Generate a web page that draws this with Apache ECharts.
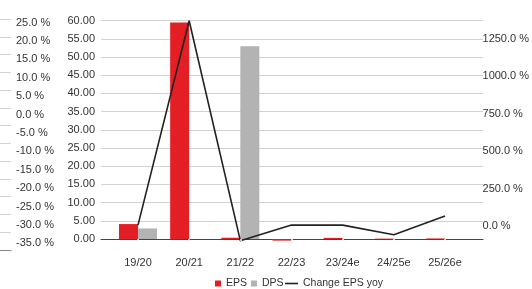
<!DOCTYPE html>
<html>
<head>
<meta charset="utf-8">
<script src="https://cdn.jsdelivr.net/npm/echarts@6/dist/echarts.min.js"></script>
<style>
    html, body { margin: 0; padding: 0; background: #fff; }
    #chart { width: 532px; height: 289px; }
</style>
</head>
<body>
<div id="chart"></div>
<script>
// 数据
const categories = ['19/20', '20/21', '21/22', '22/23', '23/24e', '24/25e', '25/26e'];
const eps = [4.1, 59.5, 0.35, -0.45, 0.3, 0.1, 0.15];
const dps = [2.9, 0, 53.0, 0, 0, 0, 0];
const changeEps = [6, 1372, -98, 6, 6, -58, 67];

const font = 'Liberation Sans, Arial, sans-serif';
const labelColor = '#333';
const gridColor = '#d2d2d2';

const chart = echarts.init(document.getElementById('chart'));

const option = {
    animation: false,
    backgroundColor: '#fff',
    textStyle: { fontFamily: font },
    grid: [
        { left: 101, right: 49, top: 20.7, bottom: 50 },      // EPS 网格线
        { left: 112.4, right: 61.4, top: 20.7, bottom: 37.5 }, // 数据
        { left: 101, right: 49, top: 39, bottom: 63 },        // 右侧百分比标签
        { left: 0, width: 11, top: 19, bottom: 39 },          // 左侧残留线
        { left: 0, width: 11, top: 22.7, bottom: 45.7 }       // 左侧百分比标签
    ],
    xAxis: [
        {
            gridIndex: 0, type: 'category', data: categories, offset: 12.5,
            axisLine: { lineStyle: { color: '#444', width: 1 } },
            axisTick: { show: false }, axisLabel: { show: false }
        },
        {
            gridIndex: 1, type: 'category', data: categories, z: 5,
            axisLine: { show: false },
            axisTick: { show: true, alignWithLabel: true, length: 2, lineStyle: { color: '#fff', width: 1.5 } },
            axisLabel: { color: labelColor, fontSize: 11, margin: 6, fontFamily: font }
        },
        { gridIndex: 2, type: 'value', show: false },
        {
            gridIndex: 3, type: 'value', axisLabel: { show: false }, axisTick: { show: false },
            splitLine: { show: false }, axisLine: { show: true, lineStyle: { color: '#888' } }
        },
        { gridIndex: 4, type: 'value', show: false }
    ],
    yAxis: [
        {
            gridIndex: 0, type: 'value', min: 0, max: 60, interval: 5,
            axisLine: { show: false }, axisTick: { show: false },
            axisLabel: { color: labelColor, fontSize: 11, margin: 6, fontFamily: font, formatter: v => v.toFixed(2) },
            splitLine: { lineStyle: { color: gridColor, width: 1 } }
        },
        { gridIndex: 1, type: 'value', min: -3.44, max: 60, show: false },
        { gridIndex: 1, type: 'value', min: -170.5, max: 1372.3, position: 'right', show: false },
        {
            gridIndex: 2, type: 'value', position: 'right', min: 0, max: 1250, interval: 250,
            axisLine: { show: false }, axisTick: { show: false }, splitLine: { show: false },
            axisLabel: { color: labelColor, fontSize: 11, margin: 8, fontFamily: font, formatter: v => v.toFixed(1) + ' %' }
        },
        {
            gridIndex: 3, type: 'value', min: 0, max: 13, interval: 1,
            axisLine: { show: false }, axisTick: { show: false }, axisLabel: { show: false },
            splitLine: { lineStyle: { color: gridColor, width: 1 } }
        },
        {
            gridIndex: 4, type: 'value', min: -35, max: 25, interval: 5,
            axisLine: { show: false }, axisTick: { show: false }, splitLine: { show: false },
            axisLabel: { inside: true, color: labelColor, fontSize: 11, margin: 16, fontFamily: font, formatter: v => v.toFixed(1) + ' %' }
        }
    ],
    legend: [
        {
            data: ['EPS', 'DPS'], left: 215, top: 278, padding: 0,
            itemWidth: 6, itemHeight: 6, itemGap: 4, icon: 'rect',
            textStyle: { color: labelColor, fontSize: 10.5, fontFamily: font }
        },
        {
            data: [{ name: 'Change EPS yoy', icon: 'path://M0,0H13V1.6H0Z' }],
            left: 285, top: 278, padding: 0,
            itemWidth: 13, itemHeight: 6,
            textStyle: { color: labelColor, fontSize: 10.5, fontFamily: font }
        }
    ],
    series: [
        {
            name: 'EPS', type: 'bar', xAxisIndex: 1, yAxisIndex: 1, data: eps,
            barWidth: 19, barGap: '0%', itemStyle: { color: '#e31e24' }
        },
        {
            name: 'DPS', type: 'bar', xAxisIndex: 1, yAxisIndex: 1, data: dps,
            barWidth: 19, barGap: '0%', itemStyle: { color: '#b3b3b3' }
        },
        {
            name: 'Change EPS yoy', type: 'line', xAxisIndex: 1, yAxisIndex: 2, data: changeEps,
            symbol: 'none', lineStyle: { color: '#222', width: 1.6 }, itemStyle: { color: '#222' }, z: 4
        }
    ]
};

chart.setOption(option);
</script>
</body>
</html>
